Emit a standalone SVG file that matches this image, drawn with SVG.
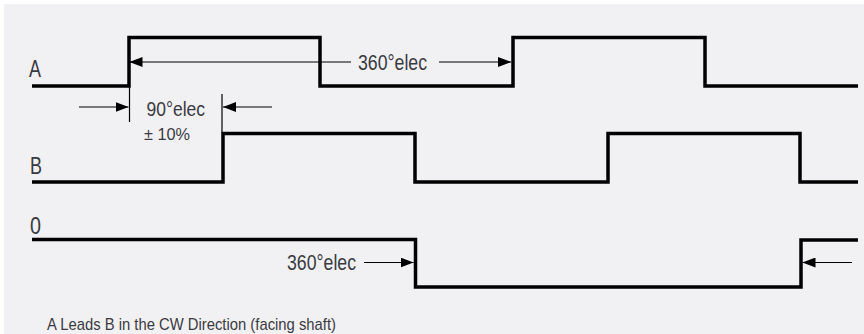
<svg xmlns="http://www.w3.org/2000/svg" width="864" height="334" viewBox="0 0 864 334">
<style>
.sig{fill:none;stroke:#000;stroke-width:3.5;stroke-linejoin:miter;stroke-linecap:butt}
.dim{fill:none;stroke:#000;stroke-width:1.2}
.t{font-family:"Liberation Sans",Arial,sans-serif;fill:#3a3a42}
</style>
<defs>
<marker id="ah" viewBox="0 0 13 10" refX="13" refY="5" markerWidth="13" markerHeight="10" markerUnits="userSpaceOnUse" orient="auto">
<path d="M0,0 L13,5 L0,10 Z" fill="#000"/>
</marker>
</defs>
<rect x="0" y="0" width="864" height="334" fill="#ffffff"/>
<rect x="4" y="4" width="860" height="330" fill="#f1f1f3"/>
<g id="labels">
<text class="t" x="29" y="77" font-size="23.5" textLength="12" lengthAdjust="spacingAndGlyphs">A</text>
<text class="t" x="30" y="174" font-size="23.5" textLength="12" lengthAdjust="spacingAndGlyphs">B</text>
<text class="t" x="30" y="234" font-size="23.5" textLength="11" lengthAdjust="spacingAndGlyphs">0</text>
</g>
<g id="signal-A">
<polyline class="sig" points="32,86 129,86 129,37.5 320,37.5 320,86 513,86 513,37.5 705,37.5 705,86 858,86"/>
</g>
<g id="signal-B">
<polyline class="sig" points="32,182 223,182 223,133.5 415,133.5 415,182 608,182 608,133.5 800,133.5 800,182 858,182"/>
</g>
<g id="signal-0">
<polyline class="sig" points="32,239.5 415.5,239.5 415.5,287 801,287 801,240 858,240"/>
</g>
<g id="connectors">
<line class="dim" x1="351" y1="62" x2="129.5" y2="62" marker-end="url(#ah)"/>
<line class="dim" x1="439" y1="62" x2="511" y2="62" marker-end="url(#ah)"/>
<line class="dim" x1="129.5" y1="86" x2="129.5" y2="122"/>
<line class="dim" x1="222" y1="94" x2="222" y2="133"/>
<line class="dim" x1="79" y1="107" x2="128.5" y2="107" marker-end="url(#ah)"/>
<line class="dim" x1="272" y1="107" x2="223" y2="107" marker-end="url(#ah)"/>
<line class="dim" x1="364" y1="262.5" x2="413.5" y2="262.5" marker-end="url(#ah)"/>
<line class="dim" x1="852" y1="262.5" x2="802.5" y2="262.5" marker-end="url(#ah)"/>
</g>
<g id="dim-texts">
<text class="t" x="358" y="69.5" font-size="22" textLength="69" lengthAdjust="spacingAndGlyphs">360°elec</text>
<text class="t" x="146.5" y="116" font-size="20" textLength="58.5" lengthAdjust="spacingAndGlyphs">90°elec</text>
<text class="t" x="144" y="140" font-size="17" textLength="46" lengthAdjust="spacingAndGlyphs">± 10%</text>
<text class="t" x="287" y="270" font-size="22" textLength="69" lengthAdjust="spacingAndGlyphs">360°elec</text>
</g>
<g id="caption">
<text class="t" x="47" y="329.5" font-size="17" textLength="289" lengthAdjust="spacingAndGlyphs">A Leads B in the CW Direction (facing shaft)</text>
</g>
</svg>
